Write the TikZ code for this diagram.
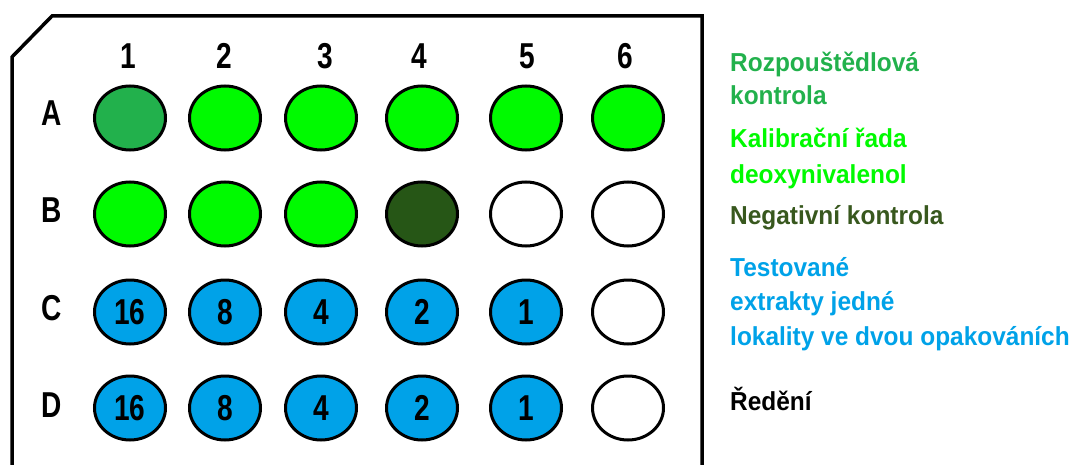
\documentclass[tikz,border=0pt]{standalone}
\usepackage{fontspec}
\usepackage{graphicx}
\setmainfont{Liberation Sans}
\usetikzlibrary{shapes.geometric}

\definecolor{solvgreen}{RGB}{34,177,76}
\definecolor{calgreen}{RGB}{0,250,0}
\definecolor{neggreen}{RGB}{38,86,22}
\definecolor{negtext}{RGB}{56,88,30}
\definecolor{testblue}{RGB}{0,162,232}

\newcommand{\narrowtext}[1]{\scalebox{0.78}[1]{#1}}
\newcommand{\legendtext}[1]{\scalebox{0.94}[1]{#1}}

\begin{document}
\begin{tikzpicture}[
    x=1pt, y=-1pt,
    well/.style={
        ellipse,
        draw=black,
        line width=3pt,
        minimum width=71pt,
        minimum height=64pt,
        inner sep=0pt,
        font=\bfseries\fontsize{36}{36}\selectfont
    },
    lab/.style={font=\bfseries\fontsize{36}{36}\selectfont},
    legend/.style={anchor=base west, inner sep=0pt, font=\bfseries\fontsize{26}{34}\selectfont}
]
\useasboundingbox (0,0) rectangle (1075,465);

% Plate
\draw[line width=3.5pt] (12,465) -- (12,57) -- (52,16) -- (702,16) -- (702,465);

% Labels
\foreach \x/\n in {128/1,224/2,325/3,419/4,527/5,625/6}
    \node[lab] (col\n) at (\x,56) {\narrowtext{\n}};
\node[lab] (rowA) at (52,113) {\narrowtext{A}};
\node[lab] (rowB) at (52,210) {\narrowtext{B}};
\node[lab] (rowC) at (52,308) {\narrowtext{C}};
\node[lab] (rowD) at (52,405) {\narrowtext{D}};

% Wells
\foreach \x/\c [count=\i] in {130/solvgreen,225/calgreen,321/calgreen,422/calgreen,526/calgreen,628/calgreen}
    \node[well, fill=\c] (a\i) at (\x,118) {};
\foreach \x/\c [count=\i] in {130/calgreen,225/calgreen,321/calgreen,422/neggreen,526/white,628/white}
    \node[well, fill=\c] (b\i) at (\x,214) {};
\foreach \x/\n [count=\i] in {130/16,225/8,321/4,422/2,526/1}
    \node[well, fill=testblue] (c\i) at (\x,312) {\narrowtext{\n}};
\node[well] (c6) at (628,312) {};
\foreach \x/\n [count=\i] in {130/16,225/8,321/4,422/2,526/1}
    \node[well, fill=testblue] (d\i) at (\x,408) {\narrowtext{\n}};
\node[well] (d6) at (628,408) {};

% Legend
\node[legend, solvgreen] (solv1) at (730,72) {\legendtext{Rozpouštědlová}};
\node[legend, solvgreen] (solv2) at (730,105) {\legendtext{kontrola}};
\node[legend, calgreen] (cal1) at (730,148) {\legendtext{Kalibrační řada}};
\node[legend, calgreen] (cal2) at (730,183) {\legendtext{deoxynivalenol}};
\node[legend, negtext] (neg) at (730,224) {\legendtext{Negativní kontrola}};
\node[legend, testblue] (test1) at (730,276) {\legendtext{Testované}};
\node[legend, testblue] (test2) at (730,310) {\legendtext{extrakty jedné}};
\node[legend, testblue] (test3) at (730,345) {\legendtext{lokality ve dvou opakováních}};
\node[legend] (dil) at (730,410) {\legendtext{Ředění}};

\end{tikzpicture}
\end{document}
